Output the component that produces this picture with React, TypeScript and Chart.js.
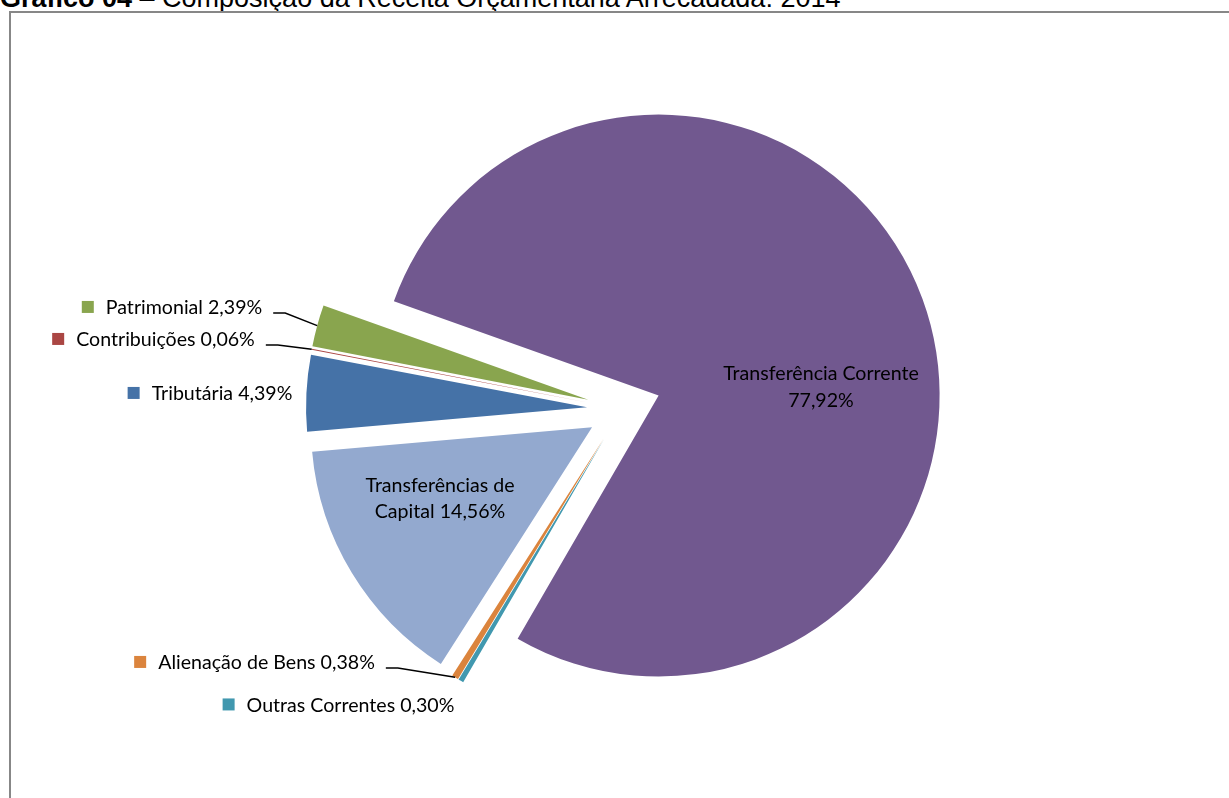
import React, { useEffect, useRef } from "react";
import { Chart, registerables } from "chart.js";

Chart.register(...registerables);

// ---- data ----
const categories = [
  "Transferência Corrente",
  "Outras Correntes",
  "Alienação de Bens",
  "Transferências de Capital",
  "Tributária",
  "Contribuições",
  "Patrimonial",
];
const values = [77.92, 0.3, 0.38, 14.56, 4.39, 0.06, 2.39];
const valueLabels = ["77,92%", "0,30%", "0,38%", "14,56%", "4,39%", "0,06%", "2,39%"];

// ---- styling ----
const colors = ["#71588F", "#4198AF", "#DB843D", "#93A9CF", "#4572A7", "#AA4643", "#89A54E"];
const explode = [39, 35, 35, 35, 35, 35, 35];
const W = 1229;
const H = 798;
const CX = 622;
const CY = 409;
const R = 281;
const START_DEG = 199.6; // canvas angle where first slice starts
const FONT_FAMILY = 'Lato, "Open Sans", sans-serif';
const FONT_SIZE = 19.6;

// label layout: inside = wrapped text in slice, callout = legend key + text
type LabelCfg = { kind: "inside" | "callout"; x: number; y: number; wrap?: number; lh?: number; leader?: boolean };
const labelCfg: LabelCfg[] = [
  { kind: "inside", x: 821, y: 380, wrap: 2, lh: 27 },
  { kind: "callout", x: 338.5, y: 711.5 },
  { kind: "callout", x: 254.5, y: 669, leader: true },
  { kind: "inside", x: 440, y: 492, wrap: 2, lh: 25.5 },
  { kind: "callout", x: 210, y: 400 },
  { kind: "callout", x: 153.5, y: 346, leader: true },
  { kind: "callout", x: 172, y: 314, leader: true },
];

function geom(i: number) {
  const total = values.reduce((a, b) => a + b, 0);
  let a0 = (START_DEG * Math.PI) / 180;
  for (let j = 0; j < i; j++) a0 += (values[j] / total) * Math.PI * 2;
  const a1 = a0 + (values[i] / total) * Math.PI * 2;
  const mid = (a0 + a1) / 2;
  return {
    mid,
    cx: CX + explode[i] * Math.cos(mid),
    cy: CY + explode[i] * Math.sin(mid),
  };
}

const labelPlugin = {
  id: "sliceLabels",
  afterDraw(chart: any) {
    const ctx: CanvasRenderingContext2D = chart.ctx;
    ctx.save();
    ctx.font = `${FONT_SIZE}px ${FONT_FAMILY}`;
    ctx.fillStyle = "#000";
    ctx.textBaseline = "alphabetic";
    categories.forEach((cat, i) => {
      const cfg = labelCfg[i];
      const text = `${cat} ${valueLabels[i]}`;
      if (cfg.kind === "inside") {
        const words = text.split(" ");
        const lines = [words.slice(0, cfg.wrap).join(" "), words.slice(cfg.wrap).join(" ")];
        ctx.textAlign = "center";
        lines.forEach((ln, k) => ctx.fillText(ln, cfg.x, cfg.y + k * (cfg.lh || 26)));
      } else {
        const tw = ctx.measureText(text).width;
        const sq = 12;
        const total = sq + 12 + tw;
        const left = cfg.x - total / 2;
        const capMid = cfg.y - FONT_SIZE * 0.36;
        ctx.fillStyle = colors[i];
        ctx.fillRect(left, capMid - sq / 2, sq, sq);
        ctx.fillStyle = "#000";
        ctx.textAlign = "left";
        ctx.fillText(text, left + sq + 12, cfg.y);
        if (cfg.leader) {
          const g = geom(i);
          const ex = g.cx + R * Math.cos(g.mid);
          const ey = g.cy + R * Math.sin(g.mid);
          const sx = left + total + 11;
          const sy = cfg.y - 1;
          ctx.beginPath();
          ctx.moveTo(sx, sy);
          ctx.lineTo(sx + 12, sy);
          ctx.lineTo(ex, ey);
          ctx.strokeStyle = "#000";
          ctx.lineWidth = 1.5;
          ctx.stroke();
        }
      }
    });
    ctx.restore();
  },
};

export default function App() {
  const refs = useRef<(HTMLCanvasElement | null)[]>([]);

  useEffect(() => {
    const charts = categories.map((_, i) => {
      const g = geom(i);
      const sx = g.cx - W / 2;
      const sy = g.cy - H / 2;
      return new Chart(refs.current[i] as HTMLCanvasElement, {
        type: "pie",
        data: {
          labels: categories,
          datasets: [
            {
              data: values,
              backgroundColor: colors.map((c, j) => (j === i ? c : "rgba(0,0,0,0)")),
              borderWidth: 0,
            },
          ],
        },
        options: {
          responsive: false,
          animation: false,
          events: [],
          radius: R,
          rotation: START_DEG + 90,
          layout: { padding: { left: 100 + sx, right: 100 - sx, top: 100 + sy, bottom: 100 - sy } },
          plugins: { legend: { display: false }, tooltip: { enabled: false }, title: { display: false } },
        } as any,
        plugins: i === categories.length - 1 ? [labelPlugin as any] : [],
      });
    });
    return () => charts.forEach((c) => c.destroy());
  }, []);

  return (
    <div
      style={{
        position: "absolute",
        left: 0,
        top: 0,
        width: W,
        height: H,
        overflow: "hidden",
        background: "#fff",
      }}
    >
      <div
        style={{
          position: "absolute",
          left: 0,
          top: -17,
          whiteSpace: "nowrap",
          fontFamily: '"Liberation Sans", Arial, sans-serif',
          fontSize: 27,
          color: "#000",
        }}
      >
        <b>Gráfico 04</b> – Composição da Receita Orçamentária Arrecadada: 2014
      </div>
      <div
        style={{
          position: "absolute",
          left: 9,
          top: 11,
          width: 1400,
          height: 1000,
          border: "2px solid #878787",
        }}
      />
      {categories.map((_, i) => (
        <canvas
          key={i}
          ref={(el) => {
            refs.current[i] = el;
          }}
          width={W}
          height={H}
          style={{ position: "absolute", left: 0, top: 0, width: W, height: H }}
        />
      ))}
    </div>
  );
}
